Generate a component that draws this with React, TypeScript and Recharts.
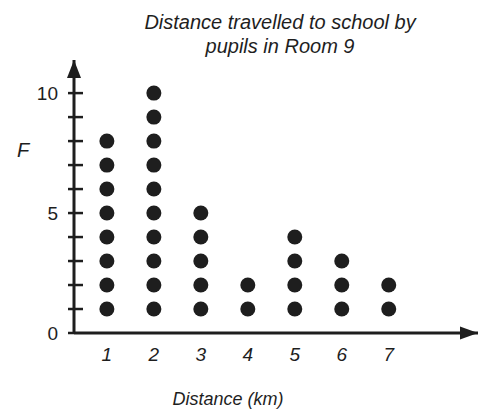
import { ScatterChart, Scatter, XAxis, YAxis, ReferenceDot } from "recharts"

// dot plot data: how many pupils per distance
const distances = [1, 2, 3, 4, 5, 6, 7]
const frequencies = [8, 10, 5, 2, 4, 3, 2]
const yTicks = [0, 1, 2, 3, 4, 5, 6, 7, 8, 9, 10]
const yTickLabels = [0, 5, 10]
const titleLines = ["Distance travelled to school by", "pupils in Room 9"]

const X_MIN = 0.3
const X_MAX = 8.9
const Y_MAX = 11.38
const INK = "#1e1e1e"
const FONT = "'Liberation Sans', Arial, sans-serif"

const dots = distances.flatMap((d, i) =>
  Array.from({ length: frequencies[i] }, (_, k) => ({ distance: d, count: k + 1 }))
)

const Dot = (props: any) => <circle cx={props.cx} cy={props.cy} r={7.5} fill={INK} />

const XTick = (props: any) => {
  const { x, y, payload } = props
  return (
    <text x={x} y={y} dy={28} textAnchor="middle" fontSize={19} fontStyle="italic" fontFamily={FONT} fill={INK}>
      {payload.value}
    </text>
  )
}

const YTick = (props: any) => {
  const { x, y, payload } = props
  return (
    <g>
      <line x1={x - 6} x2={payload.value === 0 ? x : x + 9} y1={y} y2={y} stroke={INK} strokeWidth={2.5} />
      {yTickLabels.includes(payload.value) && (
        <text x={x - 16} y={y} dy={7} textAnchor="end" fontSize={19} fontFamily={FONT} fill={INK}>
          {payload.value}
        </text>
      )}
    </g>
  )
}

const ArrowRight = (props: any) => (
  <polygon points={`${props.cx},${props.cy} ${props.cx - 18},${props.cy - 6.5} ${props.cx - 18},${props.cy + 6.5}`} fill={INK} />
)
const ArrowUp = (props: any) => (
  <polygon points={`${props.cx},${props.cy} ${props.cx - 7},${props.cy + 18} ${props.cx + 7},${props.cy + 18}`} fill={INK} />
)

export default function App() {
  return (
    <div style={{ position: "absolute", left: 0, top: 0, width: 483, height: 410, background: "#fff" }}>
      <ScatterChart width={483} height={410} margin={{ top: 60, right: 5, bottom: 47, left: 0 }}>
        <XAxis
          type="number"
          dataKey="distance"
          domain={[X_MIN, X_MAX]}
          ticks={distances}
          allowDataOverflow
          height={30}
          tickLine={false}
          tickSize={0}
          tickMargin={0}
          axisLine={{ stroke: INK, strokeWidth: 3 }}
          tick={<XTick />}
        />
        <YAxis
          type="number"
          dataKey="count"
          domain={[0, Y_MAX]}
          ticks={yTicks}
          allowDataOverflow
          width={74}
          tickLine={false}
          tickSize={0}
          tickMargin={0}
          axisLine={{ stroke: INK, strokeWidth: 3 }}
          tick={<YTick />}
        />
        <Scatter data={dots} shape={<Dot />} isAnimationActive={false} />
        <ReferenceDot x={X_MAX} y={0} ifOverflow="visible" shape={<ArrowRight />} />
        <ReferenceDot x={X_MIN} y={Y_MAX} ifOverflow="visible" shape={<ArrowUp />} />
      </ScatterChart>
      <svg width={483} height={410} style={{ position: "absolute", left: 0, top: 0, pointerEvents: "none" }}>
        {titleLines.map((line, i) => (
          <text key={line} x={280} y={29 + i * 24} textAnchor="middle" fontSize={20} fontStyle="italic" fontFamily={FONT} fill={INK}>
            {line}
          </text>
        ))}
        <text x={17} y={157} fontSize={20} fontStyle="italic" fontFamily={FONT} fill={INK}>F</text>
        <text x={228} y={405} textAnchor="middle" fontSize={18} fontStyle="italic" fontFamily={FONT} fill={INK}>
          Distance (km)
        </text>
      </svg>
    </div>
  )
}
